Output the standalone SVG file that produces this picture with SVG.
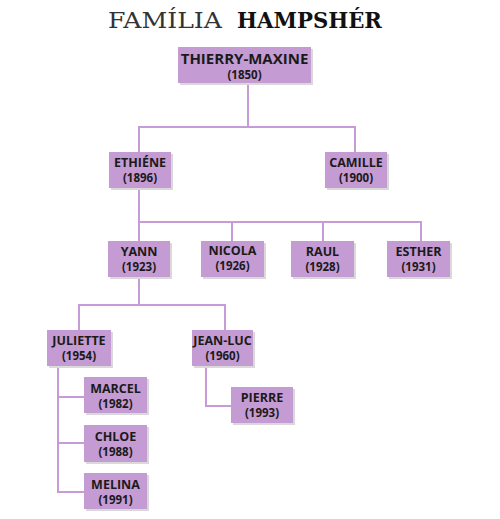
<svg xmlns="http://www.w3.org/2000/svg" width="500" height="519" viewBox="0 0 500 519">
<style>
.box{fill:#c49bd3}
.sh{fill:#d9d9d9}
.nm{font-family:"Open Sans","Liberation Sans",sans-serif;font-weight:bold;font-size:12.5px;fill:#1a1a1a;text-anchor:middle}
.top{font-size:15px}
.yr{font-family:"Open Sans","Liberation Sans",sans-serif;font-weight:bold;font-size:11.5px;fill:#1a1a1a;text-anchor:middle}
.ln{fill:none;stroke:#c79bd8;stroke-width:2}
.tt{font-family:"DejaVu Serif","Liberation Serif",serif;font-size:23px;fill:#333}
</style>
<rect width="500" height="519" fill="#fff"/>
<text class="tt" x="108" y="28" textLength="114" lengthAdjust="spacingAndGlyphs" style="font-weight:300">FAMÍLIA</text>
<text class="tt" x="237" y="28" textLength="145" lengthAdjust="spacingAndGlyphs" style="font-weight:bold;fill:#111">HAMPSHÉR</text>
<g id="connectors">
<path class="ln" d="M248,83V127M139,152V127H355V152"/>
<path class="ln" d="M139,188V222M139,222V241M139,222H421V241M232,222V241M323,222V241"/>
<path class="ln" d="M139,277V305M79,330V305H225V330"/>
<path class="ln" d="M58,366V492H84M58,397H84M58,443H84"/>
<path class="ln" d="M206,366V406H231"/>
</g>
<g id="thierry-maxine"><rect class="sh" x="180" y="49" width="133" height="36"/><rect class="box" x="178" y="47" width="133" height="36"/><text class="nm top" x="244.5" y="64">THIERRY-MAXINE</text><text class="yr" x="244.5" y="79">(1850)</text></g>
<g id="ethiene"><rect class="sh" x="111" y="154" width="62" height="36"/><rect class="box" x="109" y="152" width="62" height="36"/><text class="nm" x="140" y="167">ETHIÉNE</text><text class="yr" x="140" y="182">(1896)</text></g>
<g id="camille"><rect class="sh" x="327" y="154" width="62" height="36"/><rect class="box" x="325" y="152" width="62" height="36"/><text class="nm" x="356" y="167">CAMILLE</text><text class="yr" x="356" y="182">(1900)</text></g>
<g id="yann"><rect class="sh" x="110" y="243" width="62" height="36"/><rect class="box" x="108" y="241" width="62" height="36"/><text class="nm" x="139" y="256">YANN</text><text class="yr" x="139" y="271">(1923)</text></g>
<g id="nicola"><rect class="sh" x="203" y="243" width="63" height="36"/><rect class="box" x="201" y="241" width="63" height="36"/><text class="nm" x="232.5" y="255">NICOLA</text><text class="yr" x="232.5" y="270">(1926)</text></g>
<g id="raul"><rect class="sh" x="293" y="243" width="63" height="36"/><rect class="box" x="291" y="241" width="63" height="36"/><text class="nm" x="322.5" y="256">RAUL</text><text class="yr" x="322.5" y="271">(1928)</text></g>
<g id="esther"><rect class="sh" x="389" y="243" width="63" height="36"/><rect class="box" x="387" y="241" width="63" height="36"/><text class="nm" x="418.5" y="256">ESTHER</text><text class="yr" x="418.5" y="271">(1931)</text></g>
<g id="juliette"><rect class="sh" x="49" y="332" width="64" height="36"/><rect class="box" x="47" y="330" width="64" height="36"/><text class="nm" x="79" y="345">JULIETTE</text><text class="yr" x="79" y="360">(1954)</text></g>
<g id="jean-luc"><rect class="sh" x="194" y="332" width="61" height="36"/><rect class="box" x="192" y="330" width="61" height="36"/><text class="nm" x="222.5" y="345">JEAN-LUC</text><text class="yr" x="222.5" y="360">(1960)</text></g>
<g id="marcel"><rect class="sh" x="86" y="379" width="63" height="36"/><rect class="box" x="84" y="377" width="63" height="36"/><text class="nm" x="115.5" y="393">MARCEL</text><text class="yr" x="115.5" y="408">(1982)</text></g>
<g id="pierre"><rect class="sh" x="233" y="389" width="62" height="36"/><rect class="box" x="231" y="387" width="62" height="36"/><text class="nm" x="262" y="402">PIERRE</text><text class="yr" x="262" y="417">(1993)</text></g>
<g id="chloe"><rect class="sh" x="86" y="427" width="63" height="37"/><rect class="box" x="84" y="425" width="63" height="37"/><text class="nm" x="115.5" y="441">CHLOE</text><text class="yr" x="115.5" y="456">(1988)</text></g>
<g id="melina"><rect class="sh" x="86" y="475" width="63" height="36"/><rect class="box" x="84" y="473" width="63" height="36"/><text class="nm" x="115.5" y="489">MELINA</text><text class="yr" x="115.5" y="504">(1991)</text></g>
</svg>
